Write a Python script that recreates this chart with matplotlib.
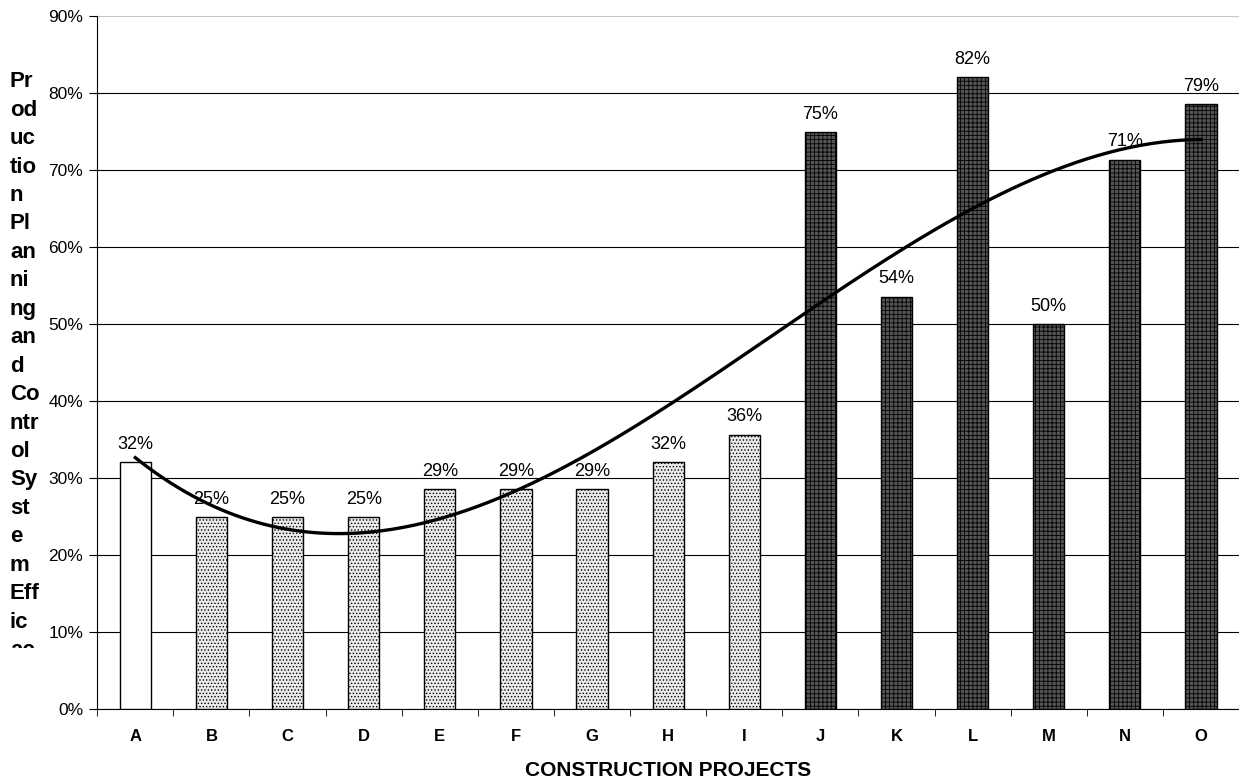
import matplotlib
matplotlib.use("Agg")
import matplotlib.pyplot as plt
import numpy as np
from matplotlib.transforms import Bbox

plt.rcParams['font.family'] = ['Liberation Sans', 'DejaVu Sans']
plt.rcParams['hatch.linewidth'] = 0.6

projects = ['A', 'B', 'C', 'D', 'E', 'F', 'G', 'H', 'I', 'J', 'K', 'L', 'M', 'N', 'O']
efficiency = [32.1, 25.0, 25.0, 25.0, 28.6, 28.6, 28.6, 32.1, 35.7, 75.0, 53.6, 82.1, 50.0, 71.4, 78.6]
labels = ['32%', '25%', '25%', '25%', '29%', '29%', '29%', '32%', '36%', '75%', '54%', '82%', '50%', '71%', '79%']
group = ['white'] + ['light'] * 8 + ['dark'] * 6
ylabel_lines = ['Pr', 'od', 'uc', 'tio', 'n', 'Pl', 'an', 'ni', 'ng', 'an', 'd', 'Co', 'ntr',
                'ol', 'Sy', 'st', 'e', 'm', 'Eff', 'ic', 'ac']

styles = {
    'white': dict(facecolor='white', hatch=None),
    'light': dict(facecolor='#eaeaea', hatch='.....'),
    'dark': dict(facecolor='#555555', hatch='++++'),
}

fig = plt.figure(figsize=(12.39, 7.83), dpi=100)
ax = fig.add_axes([0.0785, 0.094, 0.9215, 0.885])

x = np.arange(len(projects))
for i, v in enumerate(efficiency):
    st = styles[group[i]]
    ax.bar(x[i], v, width=0.41, facecolor=st['facecolor'], hatch=st['hatch'],
           edgecolor='black', linewidth=1.0, zorder=3)
    ax.text(x[i], v + 1.2, labels[i], ha='center', va='bottom', fontsize=13, zorder=5)

# polynomial (order 3) trendline
coef = np.polyfit(x, efficiency, 3)
xs = np.linspace(0, 14, 300)
ax.plot(xs, np.polyval(coef, xs), color='black', linewidth=2.4, zorder=4)

ax.set_xlim(-0.5, 14.5)
ax.set_ylim(0, 90)
ax.set_yticks(np.arange(0, 91, 10))
ax.set_yticklabels([f'{t}%' for t in range(0, 91, 10)], fontsize=12.5)
ax.set_xticks(x)
ax.set_xticklabels(projects, fontsize=12, fontweight='bold')
ax.set_xticks(np.arange(-0.5, 15, 1), minor=True)
ax.tick_params(axis='x', which='major', length=0, pad=14)
ax.tick_params(axis='x', which='minor', length=5, direction='out')
ax.tick_params(axis='y', length=6, direction='out', pad=4)
ax.grid(axis='y', color='black', linewidth=0.8, zorder=0)
ax.get_ygridlines()[-1].set_color('#c8c8c8')
ax.spines['top'].set_visible(False)
ax.spines['right'].set_visible(False)
ax.set_xlabel('CONSTRUCTION PROJECTS', fontsize=15, fontweight='bold', labelpad=12)

# narrow wrapped y-axis title, cut off at the bottom as in the original
t = fig.text(0.008, 0.909, '\n'.join(ylabel_lines), fontsize=16, fontweight='bold',
             ha='left', va='top', linespacing=1.465)
t.set_clip_box(Bbox.from_extents(0, 783 - 648, 90, 783))
t.set_clip_on(True)

fig.savefig('out.png', dpi=100)
